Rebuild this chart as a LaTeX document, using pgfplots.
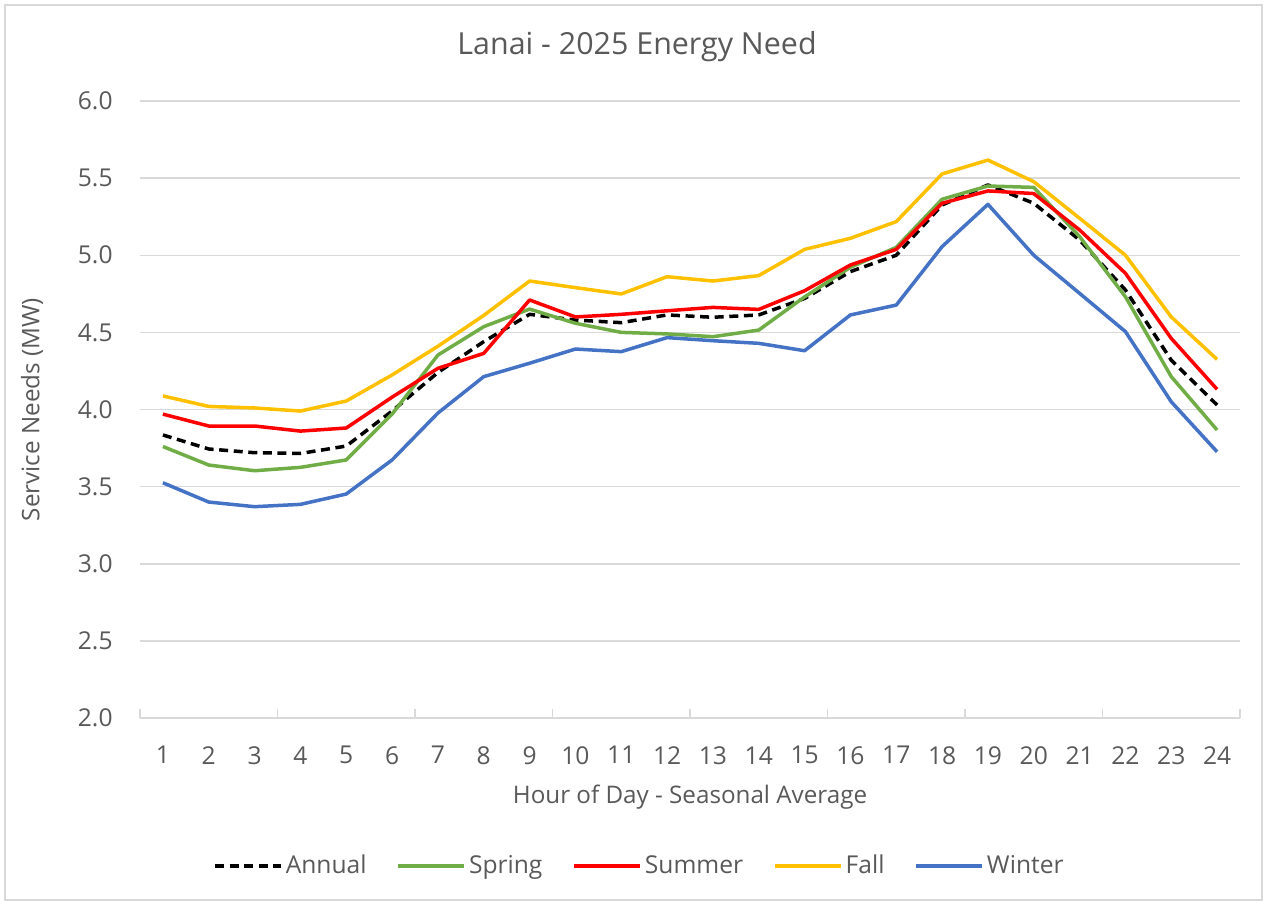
\documentclass[border=0pt]{standalone}
\usepackage{fontspec}
\setmainfont{Open Sans}
\usepackage{pgfplots}
\usepackage{pgfplotstable}
\pgfplotsset{compat=1.18}
\definecolor{txt}{HTML}{595959}
\definecolor{gridc}{HTML}{D9D9D9}
\definecolor{cspring}{HTML}{70AD47}
\definecolor{csummer}{HTML}{FF0000}
\definecolor{cfall}{HTML}{FFC000}
\definecolor{cwinter}{HTML}{4472C4}
\pgfplotstableread{
h annual spring summer fall winter
1 3.835 3.760 3.970 4.088 3.525
2 3.744 3.640 3.893 4.020 3.400
3 3.720 3.603 3.893 4.010 3.370
4 3.715 3.625 3.860 3.990 3.385
5 3.763 3.673 3.880 4.055 3.452
6 3.990 3.970 4.080 4.224 3.673
7 4.240 4.353 4.267 4.410 3.977
8 4.440 4.537 4.364 4.610 4.213
9 4.617 4.651 4.710 4.833 4.300
10 4.580 4.559 4.600 4.790 4.392
11 4.563 4.500 4.617 4.749 4.375
12 4.613 4.490 4.640 4.861 4.466
13 4.598 4.472 4.662 4.833 4.446
14 4.613 4.515 4.649 4.868 4.429
15 4.720 4.730 4.770 5.038 4.381
16 4.894 4.922 4.937 5.110 4.613
17 5.000 5.051 5.038 5.218 4.677
18 5.326 5.363 5.337 5.527 5.056
19 5.456 5.449 5.417 5.617 5.330
20 5.337 5.440 5.400 5.477 5.000
21 5.099 5.121 5.164 5.240 4.753
22 4.775 4.731 4.883 5.000 4.505
23 4.320 4.213 4.461 4.600 4.050
24 4.029 3.867 4.131 4.325 3.726
}\datatable
\begin{document}
\begin{tikzpicture}
\path[use as bounding box] (0,0) rectangle (633.5pt,452.5pt);
\draw[gridc, line width=0.75pt] (2.5pt,2.5pt) rectangle (631pt,450pt);
\node[txt, font=\fontsize{15.2}{18}\selectfont] at (318.5pt,429pt) {Lanai - 2025 Energy Need};
\begin{axis}[
  at={(70pt,93.5pt)}, anchor=south west,
  scale only axis, width=550pt, height=308.5pt,
  xmin=0.5, xmax=24.5, ymin=2, ymax=6,
  xtick={1,...,24},
  minor xtick={0.5,3.5,...,24.5},
  ytick={2,2.5,...,6},
  xtick pos=bottom, ytick pos=left,
  tick align=inside,
  major tick length=0pt, minor tick length=4.5pt,
  minor tick style={gridc, line width=0.75pt},
  separate axis lines,
  x axis line style={draw=gridc, line width=0.75pt},
  y axis line style={draw=none},
  ymajorgrids, grid style={gridc, line width=0.75pt},
  /pgf/number format/assume math mode=true,
  yticklabel={\pgfmathprintnumber[fixed,fixed zerofill,precision=1]{\tick}},
  ticklabel style={txt, font=\fontsize{12.3}{14}\selectfont},
  yticklabel style={anchor=east, inner sep=0pt, xshift=-13.5pt},
  xticklabel style={anchor=north, inner sep=0pt, yshift=-14pt},
  xlabel={Hour of Day - Seasonal Average},
  ylabel={Service Needs (MW)},
  label style={txt, font=\fontsize{12.1}{15}\selectfont},
  xlabel style={at={(axis description cs:0.5,-0.128)}, anchor=center},
  ylabel style={at={(axis description cs:-0.0982,0.5)}, anchor=center},
  legend columns=-1,
  legend style={draw=none, fill=none, at={(axis description cs:0.4545,-0.24)}, anchor=center,
    font=\fontsize{12.3}{14}\selectfont, text=txt,
    nodes={inner sep=1.5pt}},
  legend cell align=left,
  /tikz/every even column/.append style={column sep=13.5pt},
  legend image code/.code={\draw[#1] (0pt,0pt) -- (33pt,0pt);},
  every axis plot/.append style={line width=1.75pt, line join=round, no marks},
]
\addplot[black, dash pattern=on 4.5pt off 2.8pt] table[x=h,y=annual]{\datatable};
\addlegendentry{Annual}
\addplot[cspring] table[x=h,y=spring]{\datatable};
\addlegendentry{Spring}
\addplot[csummer] table[x=h,y=summer]{\datatable};
\addlegendentry{Summer}
\addplot[cfall] table[x=h,y=fall]{\datatable};
\addlegendentry{Fall}
\addplot[cwinter] table[x=h,y=winter]{\datatable};
\addlegendentry{Winter}
\end{axis}
\end{tikzpicture}
\end{document}
